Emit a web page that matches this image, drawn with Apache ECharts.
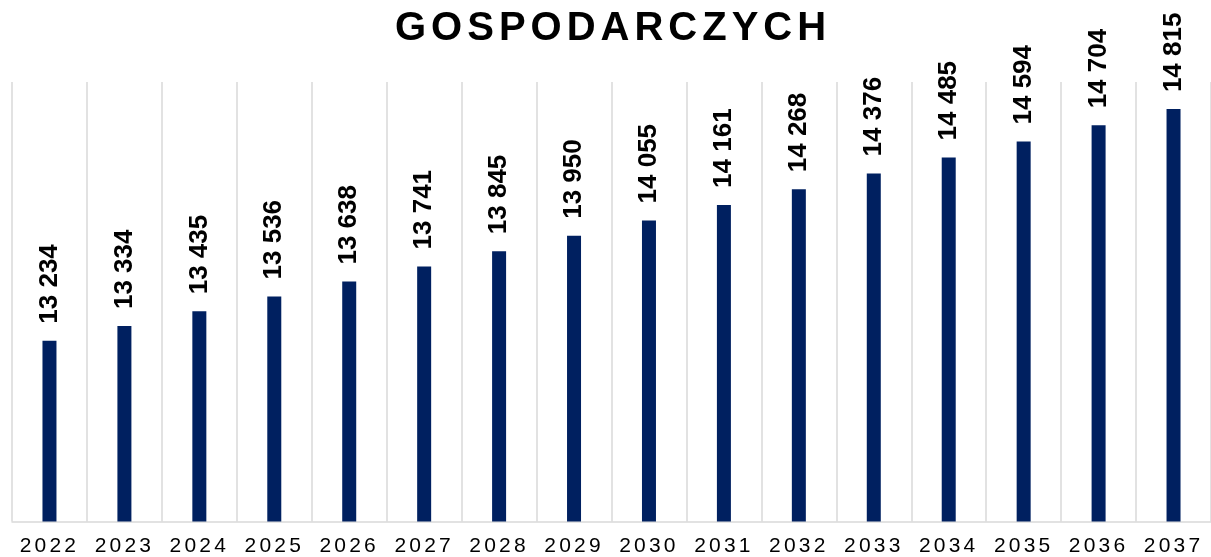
<!DOCTYPE html>
<html>
<head>
<meta charset="utf-8">
<script src="https://cdn.jsdelivr.net/npm/echarts@6/dist/echarts.min.js"></script>
<style>
  html, body { margin: 0; padding: 0; background: #fff; }
  #chart { width: 1211px; height: 557px; }
</style>
</head>
<body>
<div id="chart"></div>
<script>
// dane
var years = ['2022', '2023', '2024', '2025', '2026', '2027', '2028', '2029',
	'2030', '2031', '2032', '2033', '2034', '2035', '2036', '2037'];
var values = [13234, 13334, 13435, 13536, 13638, 13741, 13845, 13950,
	14055, 14161, 14268, 14376, 14485, 14594, 14704, 14815];
var chartTitle = 'GOSPODARCZYCH';

// odstepy miedzy literami (canvas letterSpacing wg rozmiaru czcionki)
var spacingBySize = { '40px': '5px', '21px': '3.2px' };
var origFillText = CanvasRenderingContext2D.prototype.fillText;
CanvasRenderingContext2D.prototype.fillText = function () {
	var sp = '0px';
	for (var k in spacingBySize) {
		if (this.font.indexOf(k) >= 0) { sp = spacingBySize[k]; }
	}
	this.letterSpacing = sp;
	return origFillText.apply(this, arguments);
};

function formatNum(v) {
	return String(v).replace(/\B(?=(\d{3})+(?!\d))/g, ' ');
}

var myChart = echarts.init(document.getElementById('chart'));
var option = {
	animation: false,
	title: {
		text: chartTitle,
		left: 395,
		top: 9,
		padding: 0,
		textStyle: {
			fontFamily: 'Liberation Sans, Arial, sans-serif',
			fontSize: 40,
			fontWeight: 'bold',
			color: '#000'
		}
	},
	grid: {
		left: 12,
		width: 1207,
		top: 82,
		bottom: 35.5
	},
	xAxis: {
		type: 'category',
		data: years,
		axisLine: { lineStyle: { color: '#d9d9d9', width: 1.5 } },
		axisTick: { show: false },
		splitLine: { show: true, interval: 0, lineStyle: { color: '#d9d9d9', width: 1.5 } },
		axisLabel: {
			interval: 0,
			margin: 14,
			fontFamily: 'Liberation Sans, Arial, sans-serif',
			fontSize: 21,
			color: '#000'
		}
	},
	yAxis: {
		type: 'value',
		min: 12000,
		max: 15000,
		show: false,
		splitLine: { show: false }
	},
	series: [{
		type: 'bar',
		data: values,
		barWidth: 14,
		itemStyle: { color: '#002060' },
		label: {
			show: true,
			position: 'top',
			rotate: 90,
			align: 'left',
			verticalAlign: 'middle',
			distance: 16,
			offset: [1, 0],
			formatter: function (p) { return formatNum(p.value); },
			fontFamily: 'Liberation Sans, Arial, sans-serif',
			fontSize: 26,
			fontWeight: 'bold',
			color: '#000'
		}
	}]
};
myChart.setOption(option);
</script>
</body>
</html>
